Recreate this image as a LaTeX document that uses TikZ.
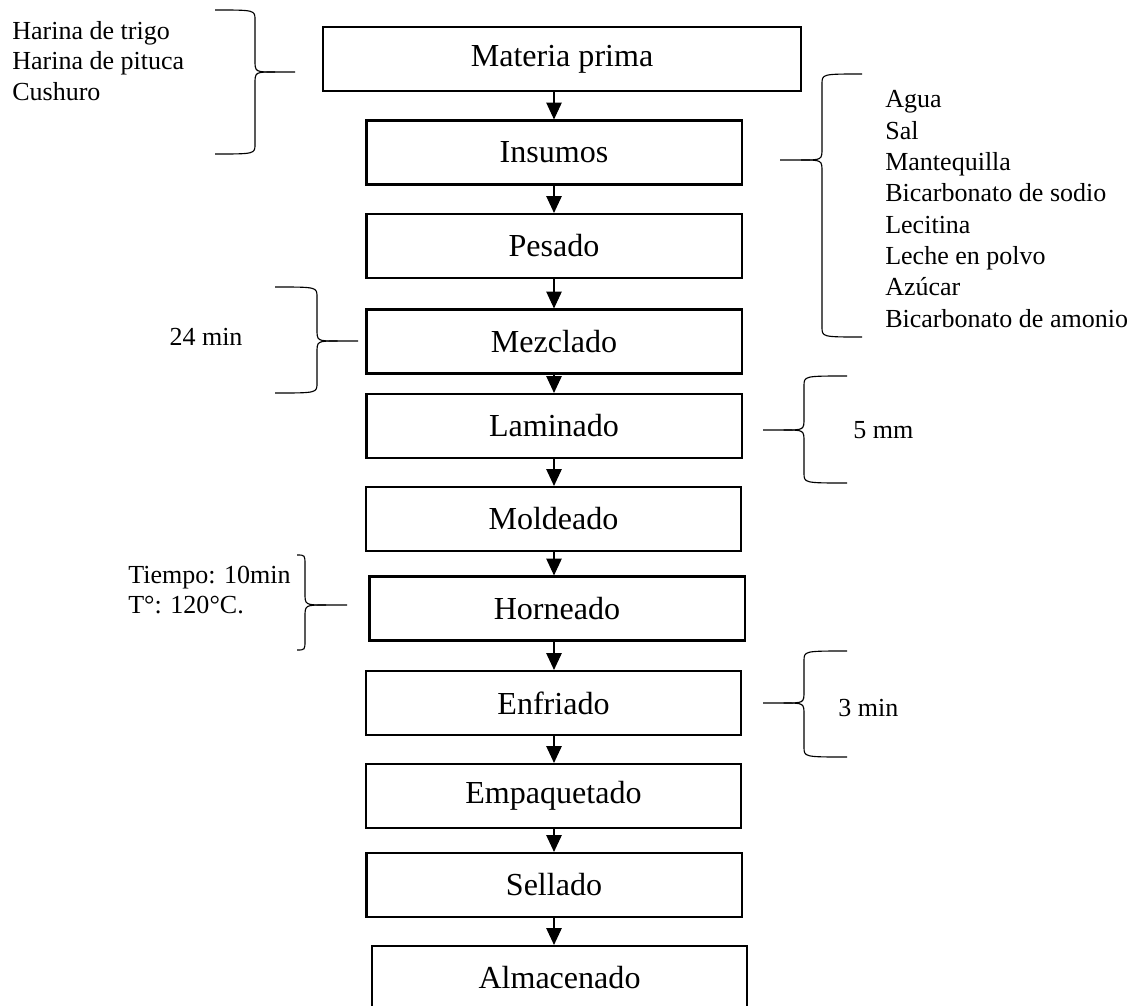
\documentclass[tikz,border=0pt]{standalone}
\usepackage{fontspec}
\setmainfont{Liberation Serif}
\usetikzlibrary{arrows.meta}

% brace: x0, y top, x stem, y tip, x tip, y bottom
\newcommand{\llave}[6]{%
  \draw[llave] (#1,#2) .. controls (#3,#2) .. (#3,{#2+10}) -- (#3,{#4-12})
    .. controls (#3,#4) .. ({(#3+#5)/2},#4) -- (#5,#4);
  \draw[llave] ({(#3+#5)/2},#4) .. controls (#3,#4) .. (#3,{#4+12}) -- (#3,{#6-10})
    .. controls (#3,#6) .. (#1,#6);}

\begin{document}
\begin{tikzpicture}[x=0.025cm, y=-0.025cm,
    paso/.style={draw, line width=1.5pt, minimum width=9.375cm, minimum height=1.6cm,
      inner sep=0pt, font=\fontsize{22.8}{27}\selectfont},
    nota/.style={inner sep=0pt, align=left, font=\fontsize{18.5}{21.8}\selectfont},
    flecha/.style={-{Triangle[length=12pt,width=11pt]}, line width=0.8pt},
    llave/.style={line width=0.8pt}]

    \clip (0,0) rectangle (1148,1005);

    % Process steps
    \node[paso, minimum width=11.95cm] (mp) at (562,59) {Materia prima};
    \node[paso] (ins) at (554,152.5) {Insumos};
    \node[paso] (pes) at (554,246) {Pesado};
    \node[paso] (mez) at (554,341.5) {Mezclado};
    \node[paso] (lam) at (554,426) {Laminado};
    \node[paso] (mol) at (553.5,519) {Moldeado};
    \node[paso] (hor) at (557,608.5) {Horneado};
    \node[paso] (enf) at (553.5,703) {Enfriado};
    \node[paso] (emp) at (553.5,796) {Empaquetado};
    \node[paso] (sel) at (554,885) {Sellado};
    \node[paso] (alm) at (559.5,978) {Almacenado};

    % Flow arrows
    \draw[flecha] (mp.south -| pes) -- (ins.north -| pes);
    \draw[flecha] (ins.south -| pes) -- (pes.north);
    \draw[flecha] (pes.south) -- (mez.north);
    \draw[flecha] (mez.south) -- (lam.north);
    \draw[flecha] (lam.south) -- (mol.north -| pes);
    \draw[flecha] (mol.south -| pes) -- (hor.north -| pes);
    \draw[flecha] (hor.south -| pes) -- (enf.north -| pes);
    \draw[flecha] (enf.south -| pes) -- (emp.north -| pes);
    \draw[flecha] (emp.south -| pes) -- (sel.north);
    \draw[flecha] (sel.south) -- (alm.north -| pes);

    % Side notes
    \node[nota, anchor=west] (harinas) at (12,61) {Harina de trigo\\Harina de pituca\\Cushuro};
    \node[nota, anchor=west, font=\fontsize{18.5}{22.3}\selectfont] (insum) at (885,209)
      {Agua\\Sal\\Mantequilla\\Bicarbonato de sodio\\Lecitina\\Leche en polvo\\Azúcar\\Bicarbonato de amonio};
    \node[nota] (tmez) at (206,337) {24 min};
    \node[nota, anchor=west] (tlam) at (853,430) {5 mm};
    \node[nota, anchor=west] (thor) at (128,590) {Tiempo: 10min\\T°: 120°C.};
    \node[nota, anchor=west] (tenf) at (838,708) {3 min};

    % Braces
    \llave{215}{10}{255}{72}{295}{154}
    \llave{862}{74}{822}{160}{780}{337}
    \llave{275}{287}{317}{341}{358}{393}
    \llave{847}{376}{804}{430}{763}{483}
    \llave{297}{555}{305}{605}{347}{650}
    \llave{847}{651}{804}{703}{763}{757}

\end{tikzpicture}
\end{document}
